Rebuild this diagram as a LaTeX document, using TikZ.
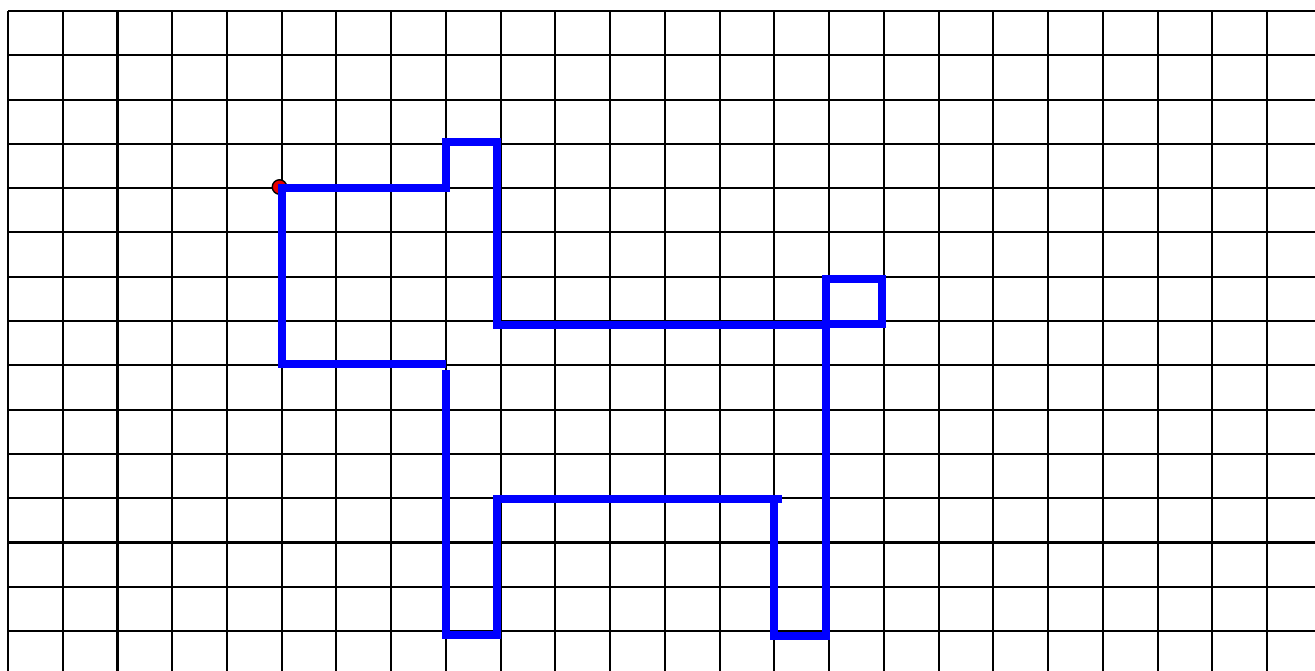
\documentclass[tikz,border=0pt]{standalone}
\usepackage{xcolor}
\usepackage{tikz}
\definecolor{gridblack}{RGB}{0,0,0}
\definecolor{dogblue}{RGB}{0,0,255}
\definecolor{dotred}{RGB}{230,0,0}
\tikzset{
  gridline/.style={line width=1.2pt, color=gridblack},
  dogline/.style={line width=4pt, color=dogblue, line join=miter},
  startdot/.style={circle, draw=black, fill=dotred, line width=0.8pt, inner sep=0pt, minimum size=0.29cm}
}

\begin{document}
\begin{tikzpicture}[x=0.02cm, y=-0.02cm]
  \useasboundingbox (0,0) rectangle (1315,671);
  \clip (0,0) rectangle (1315,671);

  % Grid
  \foreach \i in {0,...,23}
    \draw[gridline] ({8+54.74*\i},11) -- ({8+54.74*\i},671);
  \foreach \j in {0,...,14}
    \draw[gridline] (8,{11+44.29*\j}) -- (1315,{11+44.29*\j});

  % Start point
  \node[startdot] (start) at (279.5,187) {};

  % Head and neck
  \draw[dogline] (446,364) -- (282,364) -- (282,188) -- (446,188) -- (446,142)
    -- (497,142) -- (497,325) -- (826,325);
  % Tail
  \draw[dogline] (826,279) rectangle (882,324);
  % Back legs and belly
  \draw[dogline] (826,279) -- (826,636) -- (774,636) -- (774,499);
  \draw[dogline] (782,499) -- (497,499) -- (497,635) -- (446,635) -- (446,370);
\end{tikzpicture}
\end{document}
